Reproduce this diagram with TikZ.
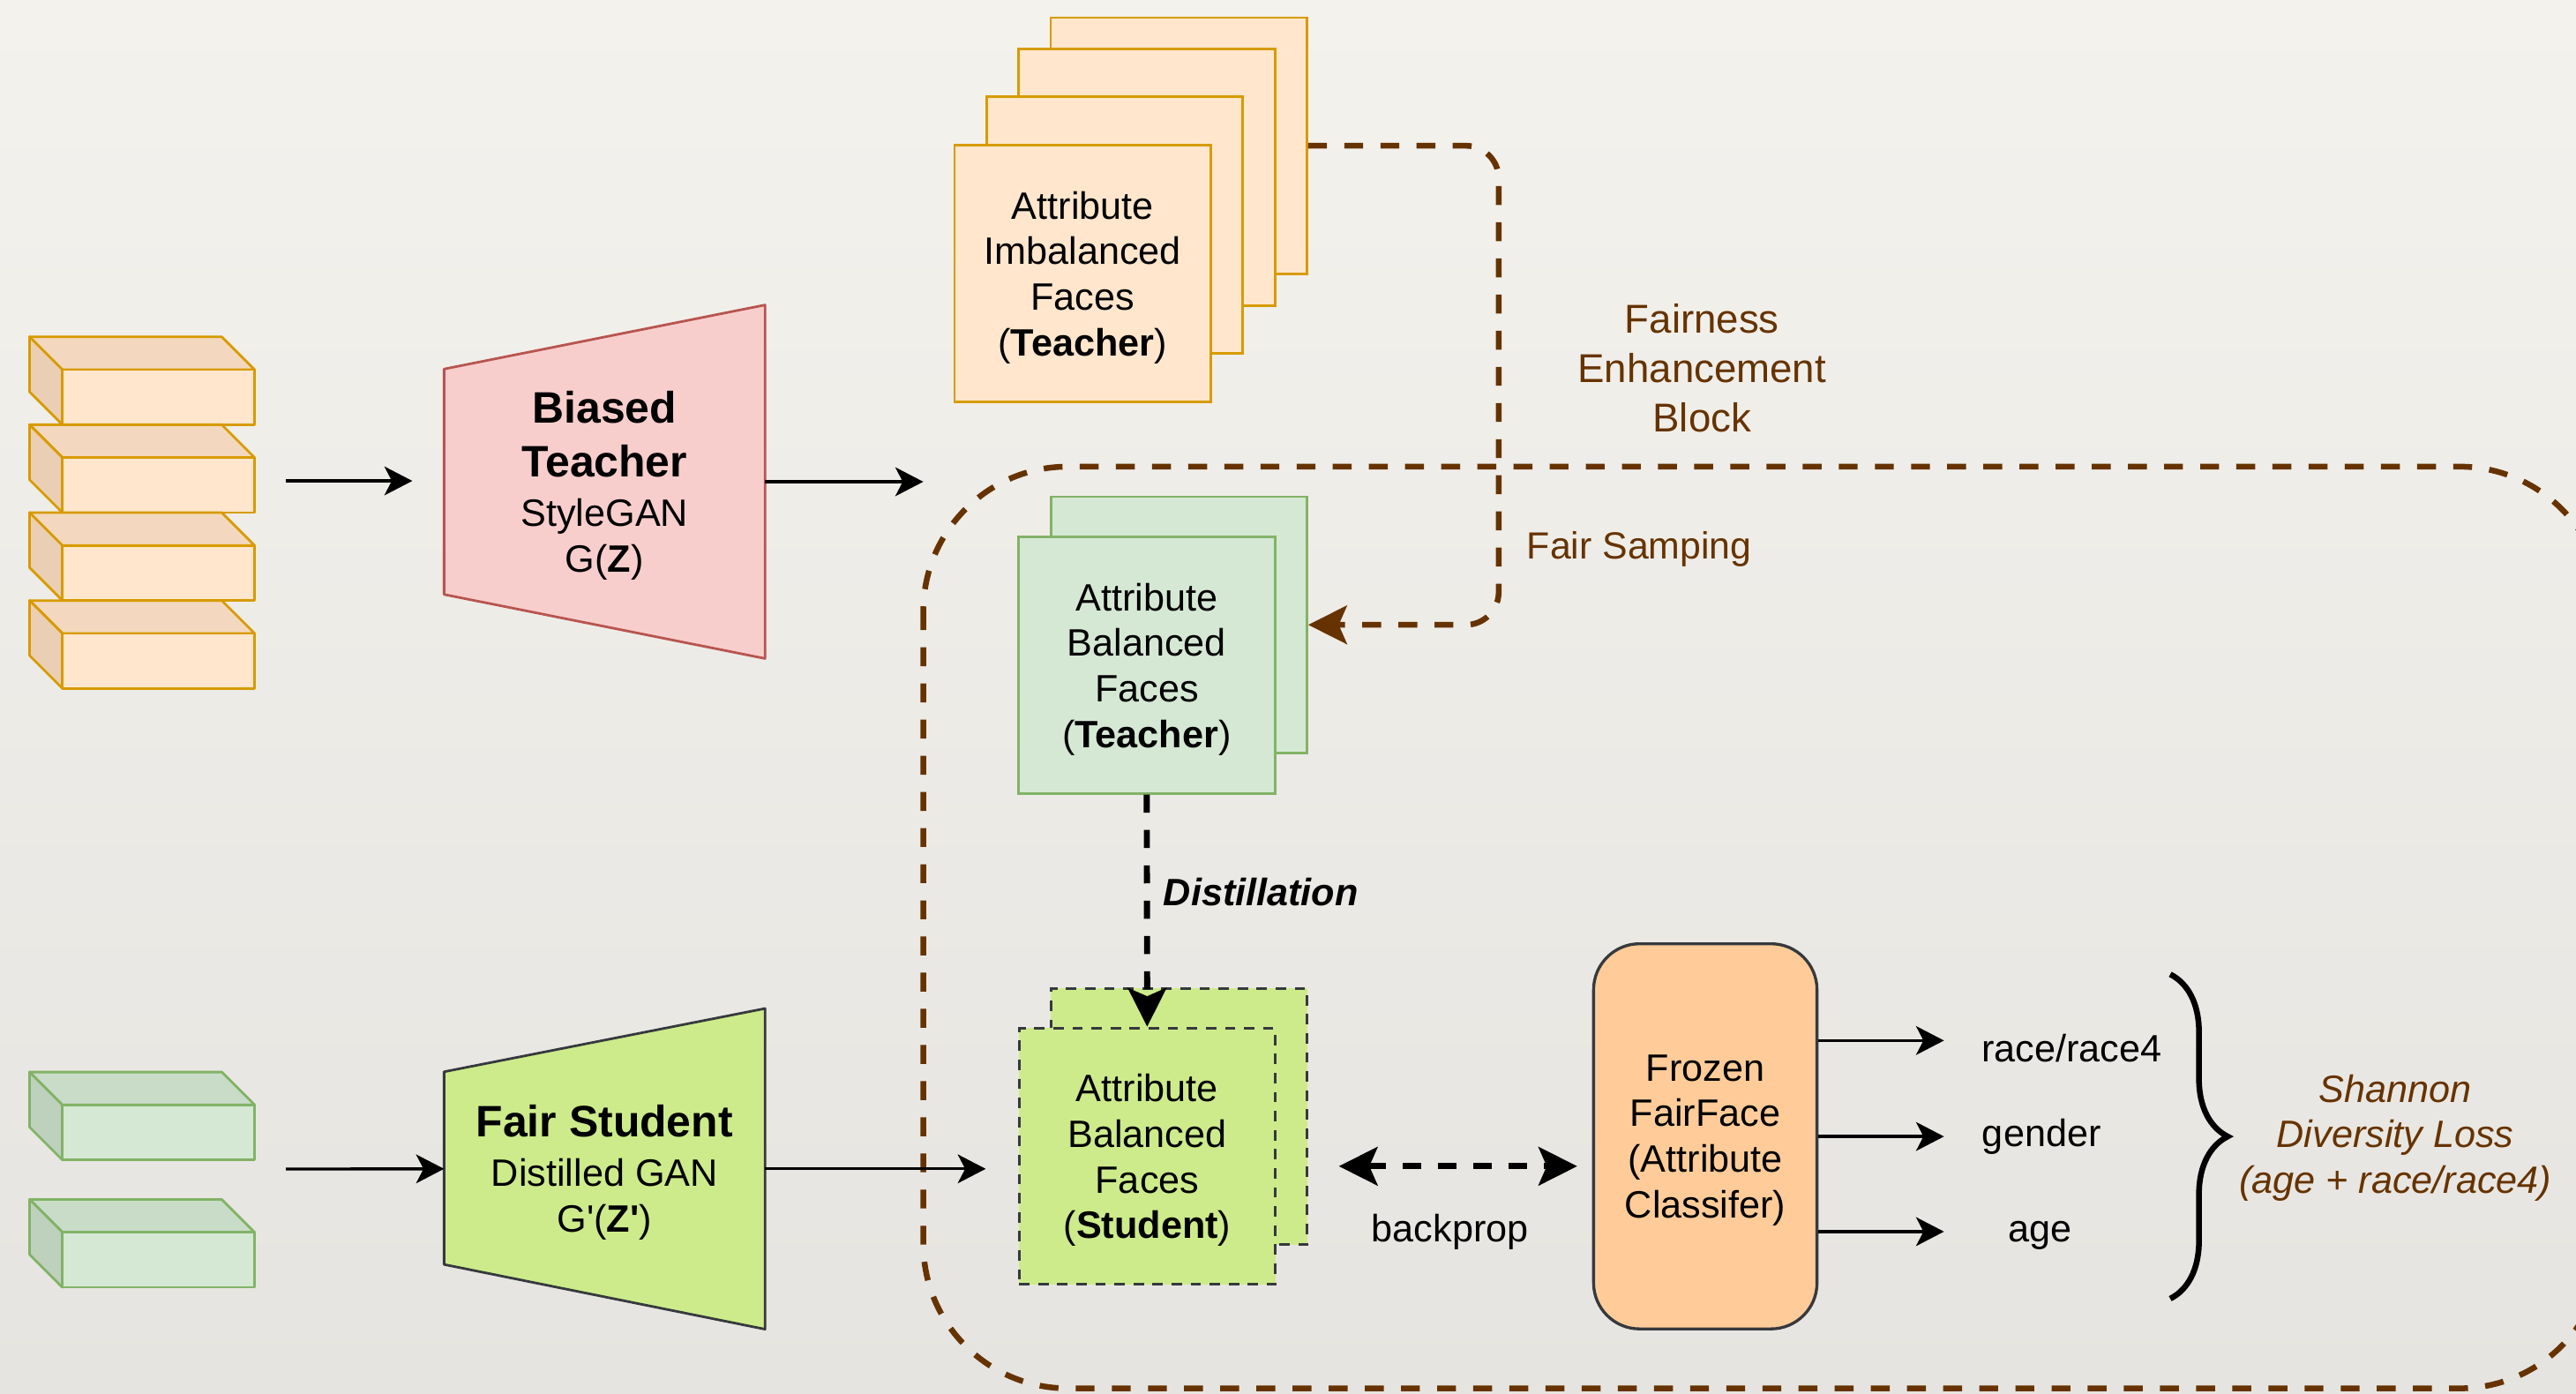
\documentclass[tikz,border=0pt]{standalone}
\usepackage{fontspec}
\setmainfont{Liberation Sans}
\usepackage{tikz}
\usetikzlibrary{arrows.meta, backgrounds, decorations.pathreplacing}

\definecolor{FEBBrown}{HTML}{663300}
\definecolor{paperA}{HTML}{F4F2ED}
\definecolor{paperB}{HTML}{E6E4E0}
\definecolor{orangeFront}{HTML}{FFE6CC}
\definecolor{orangeTop}{HTML}{F3D8BF}
\definecolor{orangeSide}{HTML}{EACFB4}
\definecolor{orangeLine}{HTML}{D79B00}
\definecolor{greenFront}{HTML}{D5E8D4}
\definecolor{greenTop}{HTML}{C9DCC8}
\definecolor{greenSide}{HTML}{BED1BD}
\definecolor{greenLine}{HTML}{82B366}
\definecolor{redFill}{HTML}{F8CECC}
\definecolor{redLine}{HTML}{B85450}
\definecolor{limeFill}{HTML}{CDEB8B}
\definecolor{darkLine}{HTML}{36393D}
\definecolor{peachFill}{HTML}{FFCC99}

\pgfdeclarelayer{paper}
\pgfsetlayers{paper,background,main}

\tikzset{
    arrtip/.tip={Stealth[length=17pt, width=17.5pt, inset=4.5pt]},
    bigtip/.tip={Stealth[length=23.5pt, width=23.5pt, inset=5pt]},
}

\newcommand{\FEBCube}[5]{
    \filldraw[cubeline, draw=#5, fill=#3] (18,#1) -- (135,#1) -- (155,#1+20) -- (38,#1+20) -- cycle;
    \filldraw[cubeline, draw=#5, fill=#4] (18,#1) -- (38,#1+20) -- (38,#1+53.5) -- (18,#1+33.5) -- cycle;
    \filldraw[cubeline, draw=#5, fill=#2] (38,#1+20) rectangle (155,#1+53.5);
}
\newcommand{\GenTitle}[1]{{\fontsize{26.8}{33}\selectfont\bfseries #1}}

\begin{document}
\begin{tikzpicture}[x=1pt, y=-1pt,
    cubeline/.style={line width=1.5pt, line join=round},
    facebox/.style={draw, line width=1.5pt, minimum width=156pt, minimum height=156pt,
        inner sep=0pt, align=center, text depth=0pt, font=\fontsize{23.2}{27.8}\selectfont},
    genbox/.style={minimum width=195pt, inner sep=0pt, align=center, text depth=0pt,
        font=\fontsize{23.2}{28}\selectfont},
    plain/.style={inner sep=0pt, font=\fontsize{23.2}{27.8}\selectfont},
    febtext/.style={text=FEBBrown, inner sep=0pt, align=center},
    arr/.style={line width=1.8pt, -arrtip},
    dashblack/.style={line width=3.7pt, dash pattern=on 11pt off 10.5pt},
    febline/.style={draw=FEBBrown, line width=3.5pt, dash pattern=on 11.5pt off 10.5pt},
    bracestyle/.style={line width=3.5pt, decorate, decoration={brace, amplitude=35pt}},
]
    \useasboundingbox (0,0) rectangle (1568,848);
    \clip (0,0) rectangle (1568,848);
    \begin{pgfonlayer}{paper}
        \shade[top color=paperA, bottom color=paperB] (0,0) rectangle (1568,848);
    \end{pgfonlayer}

    % fairness enhancement block
    \draw[febline, rounded corners=88pt] (562,284) rectangle (1585,845);
    \node[febtext, font=\fontsize{24.5}{30}\selectfont] (FEB) at (1036,224) {Fairness\\Enhancement\\Block};

    % latent codes
    \foreach \y in {205,258.5,312,365.5}{
        \FEBCube{\y}{orangeFront}{orangeTop}{orangeSide}{orangeLine}
    }
    \foreach \y in {652.5,730}{
        \FEBCube{\y}{greenFront}{greenTop}{greenSide}{greenLine}
    }

    % generators
    \node[genbox, minimum height=214.8pt] (GT) at (368,293.2)
        {\GenTitle{Biased}\\[5pt]\GenTitle{Teacher}\\[2pt]StyleGAN\\G(\textbf{Z})};
    \node[genbox, minimum height=194.8pt] (GS) at (368,711.4)
        {\GenTitle{Fair Student}\\[2pt]Distilled GAN\\G\textquotesingle(\textbf{Z\textquotesingle})};
    \begin{scope}[on background layer]
        \filldraw[draw=redLine, fill=redFill, line width=1.5pt, line join=round]
            (GT.north east) -- (GT.south east) -- ([yshift=39pt]GT.south west)
            -- ([yshift=-39pt]GT.north west) -- cycle;
        \filldraw[draw=darkLine, fill=limeFill, line width=1.5pt, line join=round]
            (GS.north east) -- (GS.south east) -- ([yshift=39.4pt]GS.south west)
            -- ([yshift=-38.5pt]GS.north west) -- cycle;
    \end{scope}

    \coordinate (ZT) at (174,292.7);
    \coordinate (ZTend) at (251,292.7);
    \coordinate (ZS) at (174,711.5);
    \coordinate (XT) at (562,293.2);
    \coordinate (XS) at (600,711.4);
    \draw[arr] (ZT) -- (ZTend);
    \draw[arr] (ZS) -- (GS.west);
    \draw[arr] (GT.east) -- (XT);
    \draw[arr] (GS.east) -- (XS);

    % face stacks
    \foreach \n/\x/\y in {4/717.5/88.7, 3/698/108, 2/678.5/137}{
        \node[facebox, draw=orangeLine, fill=orangeFront] (I\n) at (\x,\y) {};
    }
    \node[facebox, draw=orangeLine, fill=orangeFront] (I1) at (659,166.5)
        {Attribute\\Imbalanced\\Faces\\(\textbf{Teacher})};
    \node[facebox, draw=greenLine, fill=greenFront] (B2) at (717.6,380.3) {};
    \node[facebox, draw=greenLine, fill=greenFront] (B1) at (698,404.9)
        {Attribute\\Balanced\\Faces\\(\textbf{Teacher})};
    \node[facebox, draw=darkLine, fill=limeFill, line width=1.7pt, dash pattern=on 6.3pt off 5.3pt] (S2) at (717.6,679.5) {};
    \node[facebox, draw=darkLine, fill=limeFill, line width=1.7pt, dash pattern=on 6.3pt off 5.3pt] (S1) at (698.3,703.7)
        {Attribute\\Balanced\\Faces\\(\textbf{Student})};

    % fair sampling
    \draw[febline, rounded corners=20pt, -bigtip] (I4.east) -- ++(116,0) |- (B2.east);
    \node[febtext, font=\fontsize{23}{28}\selectfont, anchor=base west] (FS) at (929.3,340) {Fair Samping};

    % distillation
    \draw[dashblack, -bigtip] (B1.south) -- (S1.north);
    \node[plain, anchor=base west, font=\fontsize{23.2}{28}\selectfont\bfseries\itshape] (DL) at (708,551.4) {Distillation};

    % classifier
    \node[draw=darkLine, fill=peachFill, line width=1.8pt, rounded corners=28pt,
        minimum width=136pt, minimum height=234.4pt, inner sep=0pt, align=center, text depth=0pt,
        font=\fontsize{23.2}{27.8}\selectfont] (FF) at (1038,691.6)
        {Frozen\\FairFace\\(Attribute\\Classifer)};

    \coordinate (BPL) at (815,709.8);
    \coordinate (BPR) at (960,709.8);
    \draw[dashblack, bigtip-bigtip] (BPL) -- (BPR);
    \node[plain, anchor=base] (BP) at (882.6,756) {backprop};

    \coordinate (R1) at (1183.3,633.3);
    \coordinate (R2) at (1183.3,691.7);
    \coordinate (R3) at (1183.3,749.6);
    \draw[arr] (FF.east |- R1) -- (R1);
    \draw[arr] (FF.east |- R2) -- (R2);
    \draw[arr] (FF.east |- R3) -- (R3);
    \node[plain, anchor=base] (race) at (1261,646.4) {race/race4};
    \node[plain, anchor=base] (gender) at (1242.7,698) {gender};
    \node[plain, anchor=base] (age) at (1242,755.6) {age};

    % diversity loss
    \coordinate (BrT) at (1321,593);
    \coordinate (BrB) at (1321,790.4);
    \draw[bracestyle] (BrT) -- (BrB);
    \node[febtext, font=\fontsize{23.2}{27.5}\selectfont\itshape] (SDL) at (1458,692.6)
        {Shannon\\Diversity Loss\\(age + race/race4)};
\end{tikzpicture}
\end{document}
